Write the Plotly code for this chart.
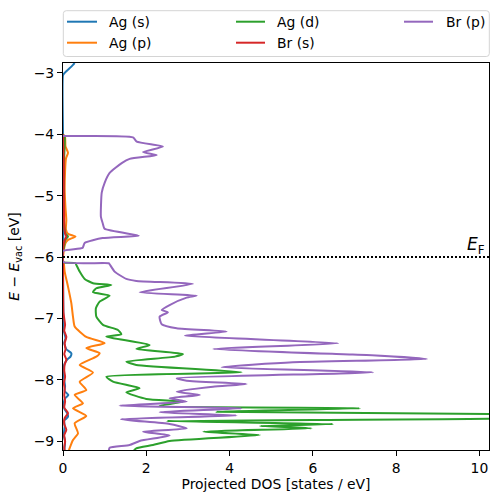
import plotly.graph_objects as go

# ---------------- data (energy in eV, projected DOS in states/eV) ----------------
ag_s_E = [-2.84, -2.87, -2.93, -3.00, -3.04, -4.00, -5.70, -5.77, -5.84, -6.10, -7.00, -7.20, -7.32,
          -7.40, -7.50, -7.565, -7.62, -7.67, -7.75, -7.85, -8.00, -8.10, -8.18, -8.244, -8.30, -8.38,
          -8.48, -8.54, -8.60, -8.66, -8.75, -8.90, -9.00, -9.15]
ag_s_D = [0.28, 0.24, 0.15, 0.04, 0.0, 0.0, 0.01, 0.05, 0.0, 0.0, 0.01, 0.02, 0.06,
          0.03, 0.08, 0.20, 0.18, 0.10, 0.03, 0.02, 0.03, 0.05, 0.04, 0.13, 0.05, 0.02,
          0.04, 0.10, 0.12, 0.03, 0.04, 0.02, 0.05, 0.03]

ag_p_E = [-4.00, -4.05, -4.20, -4.30, -4.40, -4.60, -4.90, -5.20, -5.40, -5.55, -5.62, -5.666, -5.72,
          -5.77, -5.89, -6.05, -6.10, -6.236, -6.48, -6.75, -6.97, -7.13, -7.30, -7.40, -7.48, -7.565,
          -7.62, -7.756, -7.88, -8.03, -8.163, -8.244, -8.38, -8.46, -8.586, -8.705, -8.868, -8.977,
          -9.11, -9.15]
ag_p_D = [0.0, 0.05, 0.06, 0.12, 0.07, 0.05, 0.04, 0.06, 0.08, 0.07, 0.12, 0.30, 0.12,
          0.06, 0.02, 0.0, 0.02, 0.04, 0.12, 0.20, 0.24, 0.28, 0.56, 1.00, 0.56, 0.88,
          0.80, 0.40, 0.72, 0.40, 0.56, 0.28, 0.48, 0.24, 0.56, 0.28, 0.36, 0.24,
          0.16, 0.14]

ag_d_E = [-4.00, -4.05, -4.50, -5.00, -5.50, -5.62, -5.666, -5.72, -5.85, -5.90, -6.08, -6.09,
          -6.10, -6.127, -6.236, -6.355, -6.425, -6.453, -6.507, -6.572, -6.627, -6.725, -6.832,
          -6.969, -7.104, -7.186, -7.256, -7.295, -7.430, -7.495, -7.577, -7.620, -7.702, -7.756,
          -7.875, -7.946, -8.028, -8.135, -8.200, -8.309, -8.353, -8.423, -8.461, -8.516, -8.559,
          -8.590, -8.624, -8.668, -8.717, -8.749, -8.787, -8.842, -8.896, -8.993, -9.059, -9.112, -9.15]
ag_d_D = [0.0, 0.04, 0.02, 0.02, 0.03, 0.06, 0.12, 0.05, 0.02, 0.0, 0.0, 0.05,
          0.30, 0.32, 0.40, 0.52, 0.72, 1.16, 0.80, 0.72, 1.12, 0.88, 0.79,
          0.80, 0.96, 1.32, 1.40, 1.04, 2.08, 1.76, 2.88, 2.69, 1.52, 1.76,
          4.29, 1.04, 1.20, 1.84, 1.52, 2.00, 2.88, 2.32, 7.13, 3.69, 10.8,
          11.6, 10.8, 2.49, 6.49, 4.73, 5.97, 3.37, 4.73, 2.56, 2.16, 1.76, 1.70]

br_s_E = [-4.00, -4.50, -5.00, -5.50, -5.62, -5.666, -5.72, -5.90, -6.10, -6.90, -7.00, -7.10,
          -7.20, -7.30, -7.40, -7.50, -7.58, -7.67, -7.75, -7.85, -7.95, -8.05, -8.15, -8.25,
          -8.35, -8.45, -8.54, -8.62, -8.72, -8.81, -8.90, -9.00, -9.10, -9.15]
br_s_D = [0.0, 0.02, 0.02, 0.03, 0.05, 0.08, 0.04, 0.0, 0.0, 0.01, 0.03, 0.05,
          0.03, 0.08, 0.04, 0.06, 0.03, 0.08, 0.04, 0.03, 0.05, 0.02, 0.04, 0.03,
          0.05, 0.03, 0.12, 0.04, 0.03, 0.08, 0.03, 0.05, 0.03, 0.04]

br_p_E = [-4.03, -4.05, -4.12, -4.20, -4.29, -4.34, -4.40, -4.47, -4.63, -4.79, -4.95, -5.34,
          -5.44, -5.54, -5.65, -5.69, -5.77, -5.85, -5.90, -6.08, -6.10, -6.116, -6.236, -6.355,
          -6.388, -6.436, -6.572, -6.627, -6.660, -6.780, -6.860, -6.897, -6.969, -7.093, -7.158,
          -7.213, -7.279, -7.402, -7.495, -7.581, -7.593, -7.658, -7.712, -7.793, -7.875, -7.972,
          -8.011, -8.065, -8.109, -8.190, -8.244, -8.298, -8.353, -8.419, -8.461, -8.524, -8.578,
          -8.638, -8.717, -8.787, -8.842, -8.904, -8.993, -9.059, -9.103, -9.15]
br_p_D = [0.0, 1.68, 1.77, 2.40, 1.92, 2.25, 1.60, 1.41, 1.12, 1.00, 0.93, 0.91,
          0.95, 1.00, 1.82, 0.95, 0.52, 0.47, 0.0, 0.0, 1.10, 1.12, 1.24, 1.52,
          1.76, 3.12, 1.84, 3.21, 2.97, 2.56, 2.37, 2.52, 2.32, 2.37, 2.73,
          3.93, 2.93, 6.61, 3.61, 6.73, 7.29, 8.74, 5.52, 3.81, 7.45, 2.73,
          2.97, 4.41, 3.60, 2.73, 3.29, 2.56, 2.97, 1.36, 4.29, 2.32, 4.17,
          1.39, 2.56, 2.97, 1.92, 2.56, 1.84, 1.60, 1.12, 1.10]

fermi_level = -6.0

series_names = ["Ag (s)", "Ag (p)", "Ag (d)", "Br (s)", "Br (p)"]
series_E = [ag_s_E, ag_p_E, ag_d_E, br_s_E, br_p_E]
series_D = [ag_s_D, ag_p_D, ag_d_D, br_s_D, br_p_D]
colors = ["#1f77b4", "#ff7f0e", "#2ca02c", "#d62728", "#9467bd"]

x_ticks = [0, 2, 4, 6, 8, 10]
y_ticks = [-9, -8, -7, -6, -5, -4, -3]

# ---------------- layout geometry ----------------
W, H = 499, 502
L, R, T, B = 63, 10, 63, 52
PW, PH = W - L - R, H - T - B
FONT = "DejaVu Sans"


def pxx(x):
    return (x - L) / PW


def pxy(y):
    return (H - B - y) / PH


fig = go.Figure()
for name, E, D, c in zip(series_names, series_E, series_D, colors):
    fig.add_trace(go.Scatter(x=D, y=E, mode="lines", name=name, showlegend=False,
                             line=dict(color=c, width=2, shape="spline", smoothing=0.5)))

shapes = []
annotations = []

# Fermi level
shapes.append(dict(type="line", xref="paper", yref="y", x0=0, x1=1, y0=fermi_level, y1=fermi_level,
                   line=dict(color="black", width=2, dash="2px,2px")))
annotations.append(dict(xref="paper", yref="y", x=1, y=fermi_level, xanchor="right", yanchor="bottom",
                        xshift=-2, yshift=-2, showarrow=False,
                        text="<i>E</i><sub>F</sub>", font=dict(family=FONT, size=17, color="black")))

# Manual legend (3 columns, column-major like the reference)
bx0, bx1, by0, by1 = 63.3, 489.3, 10.7, 56.5
r = 3.0
path = (f"M {pxx(bx0 + r)},{pxy(by0)} L {pxx(bx1 - r)},{pxy(by0)} "
        f"Q {pxx(bx1)},{pxy(by0)} {pxx(bx1)},{pxy(by0 + r)} L {pxx(bx1)},{pxy(by1 - r)} "
        f"Q {pxx(bx1)},{pxy(by1)} {pxx(bx1 - r)},{pxy(by1)} L {pxx(bx0 + r)},{pxy(by1)} "
        f"Q {pxx(bx0)},{pxy(by1)} {pxx(bx0)},{pxy(by1 - r)} L {pxx(bx0)},{pxy(by0 + r)} "
        f"Q {pxx(bx0)},{pxy(by0)} {pxx(bx0 + r)},{pxy(by0)} Z")
shapes.append(dict(type="path", xref="paper", yref="paper", path=path,
                   line=dict(color="#d4d4d4", width=1), fillcolor="rgba(255,255,255,0.8)"))

col_line = [(67, 97), (236, 265), (404, 433)]
col_text = [106.7, 275, 444]
rows = [21.7, 42.7]
for i, (name, c) in enumerate(zip(series_names, colors)):
    col, row = divmod(i, 2)
    yy = rows[row]
    shapes.append(dict(type="line", xref="paper", yref="paper",
                       x0=pxx(col_line[col][0]), x1=pxx(col_line[col][1]), y0=pxy(yy), y1=pxy(yy),
                       line=dict(color=c, width=2)))
    annotations.append(dict(xref="paper", yref="paper", x=pxx(col_text[col]), y=pxy(yy),
                            xanchor="left", yanchor="middle", showarrow=False, text=name,
                            font=dict(family=FONT, size=13.9, color="black")))

axis_common = dict(showline=True, mirror=True, linecolor="black", linewidth=1,
                   ticks="outside", ticklen=5, tickwidth=1, tickcolor="black",
                   showgrid=False, zeroline=False, automargin=False,
                   tickfont=dict(family=FONT, size=13.9, color="black"))

fig.update_layout(
    width=W, height=H,
    margin=dict(l=L, r=R, t=T, b=B, autoexpand=False),
    paper_bgcolor="white", plot_bgcolor="white",
    font=dict(family=FONT, size=13.9, color="black"),
    xaxis=dict(range=[0, 10.23], tickvals=x_ticks,
               title=dict(text="Projected DOS [states / eV]", standoff=4,
                          font=dict(family=FONT, size=13.9)), **axis_common),
    yaxis=dict(range=[-9.14, -2.84], tickvals=y_ticks,
               title=dict(text="<i>E</i> − <i>E</i><sub>vac</sub> [eV]", standoff=10,
                          font=dict(family=FONT, size=13.9)), **axis_common),
    shapes=shapes,
    annotations=annotations,
)

fig.write_html("out.html", config={"displayModeBar": False},
               post_script="document.body.style.margin='0';")
